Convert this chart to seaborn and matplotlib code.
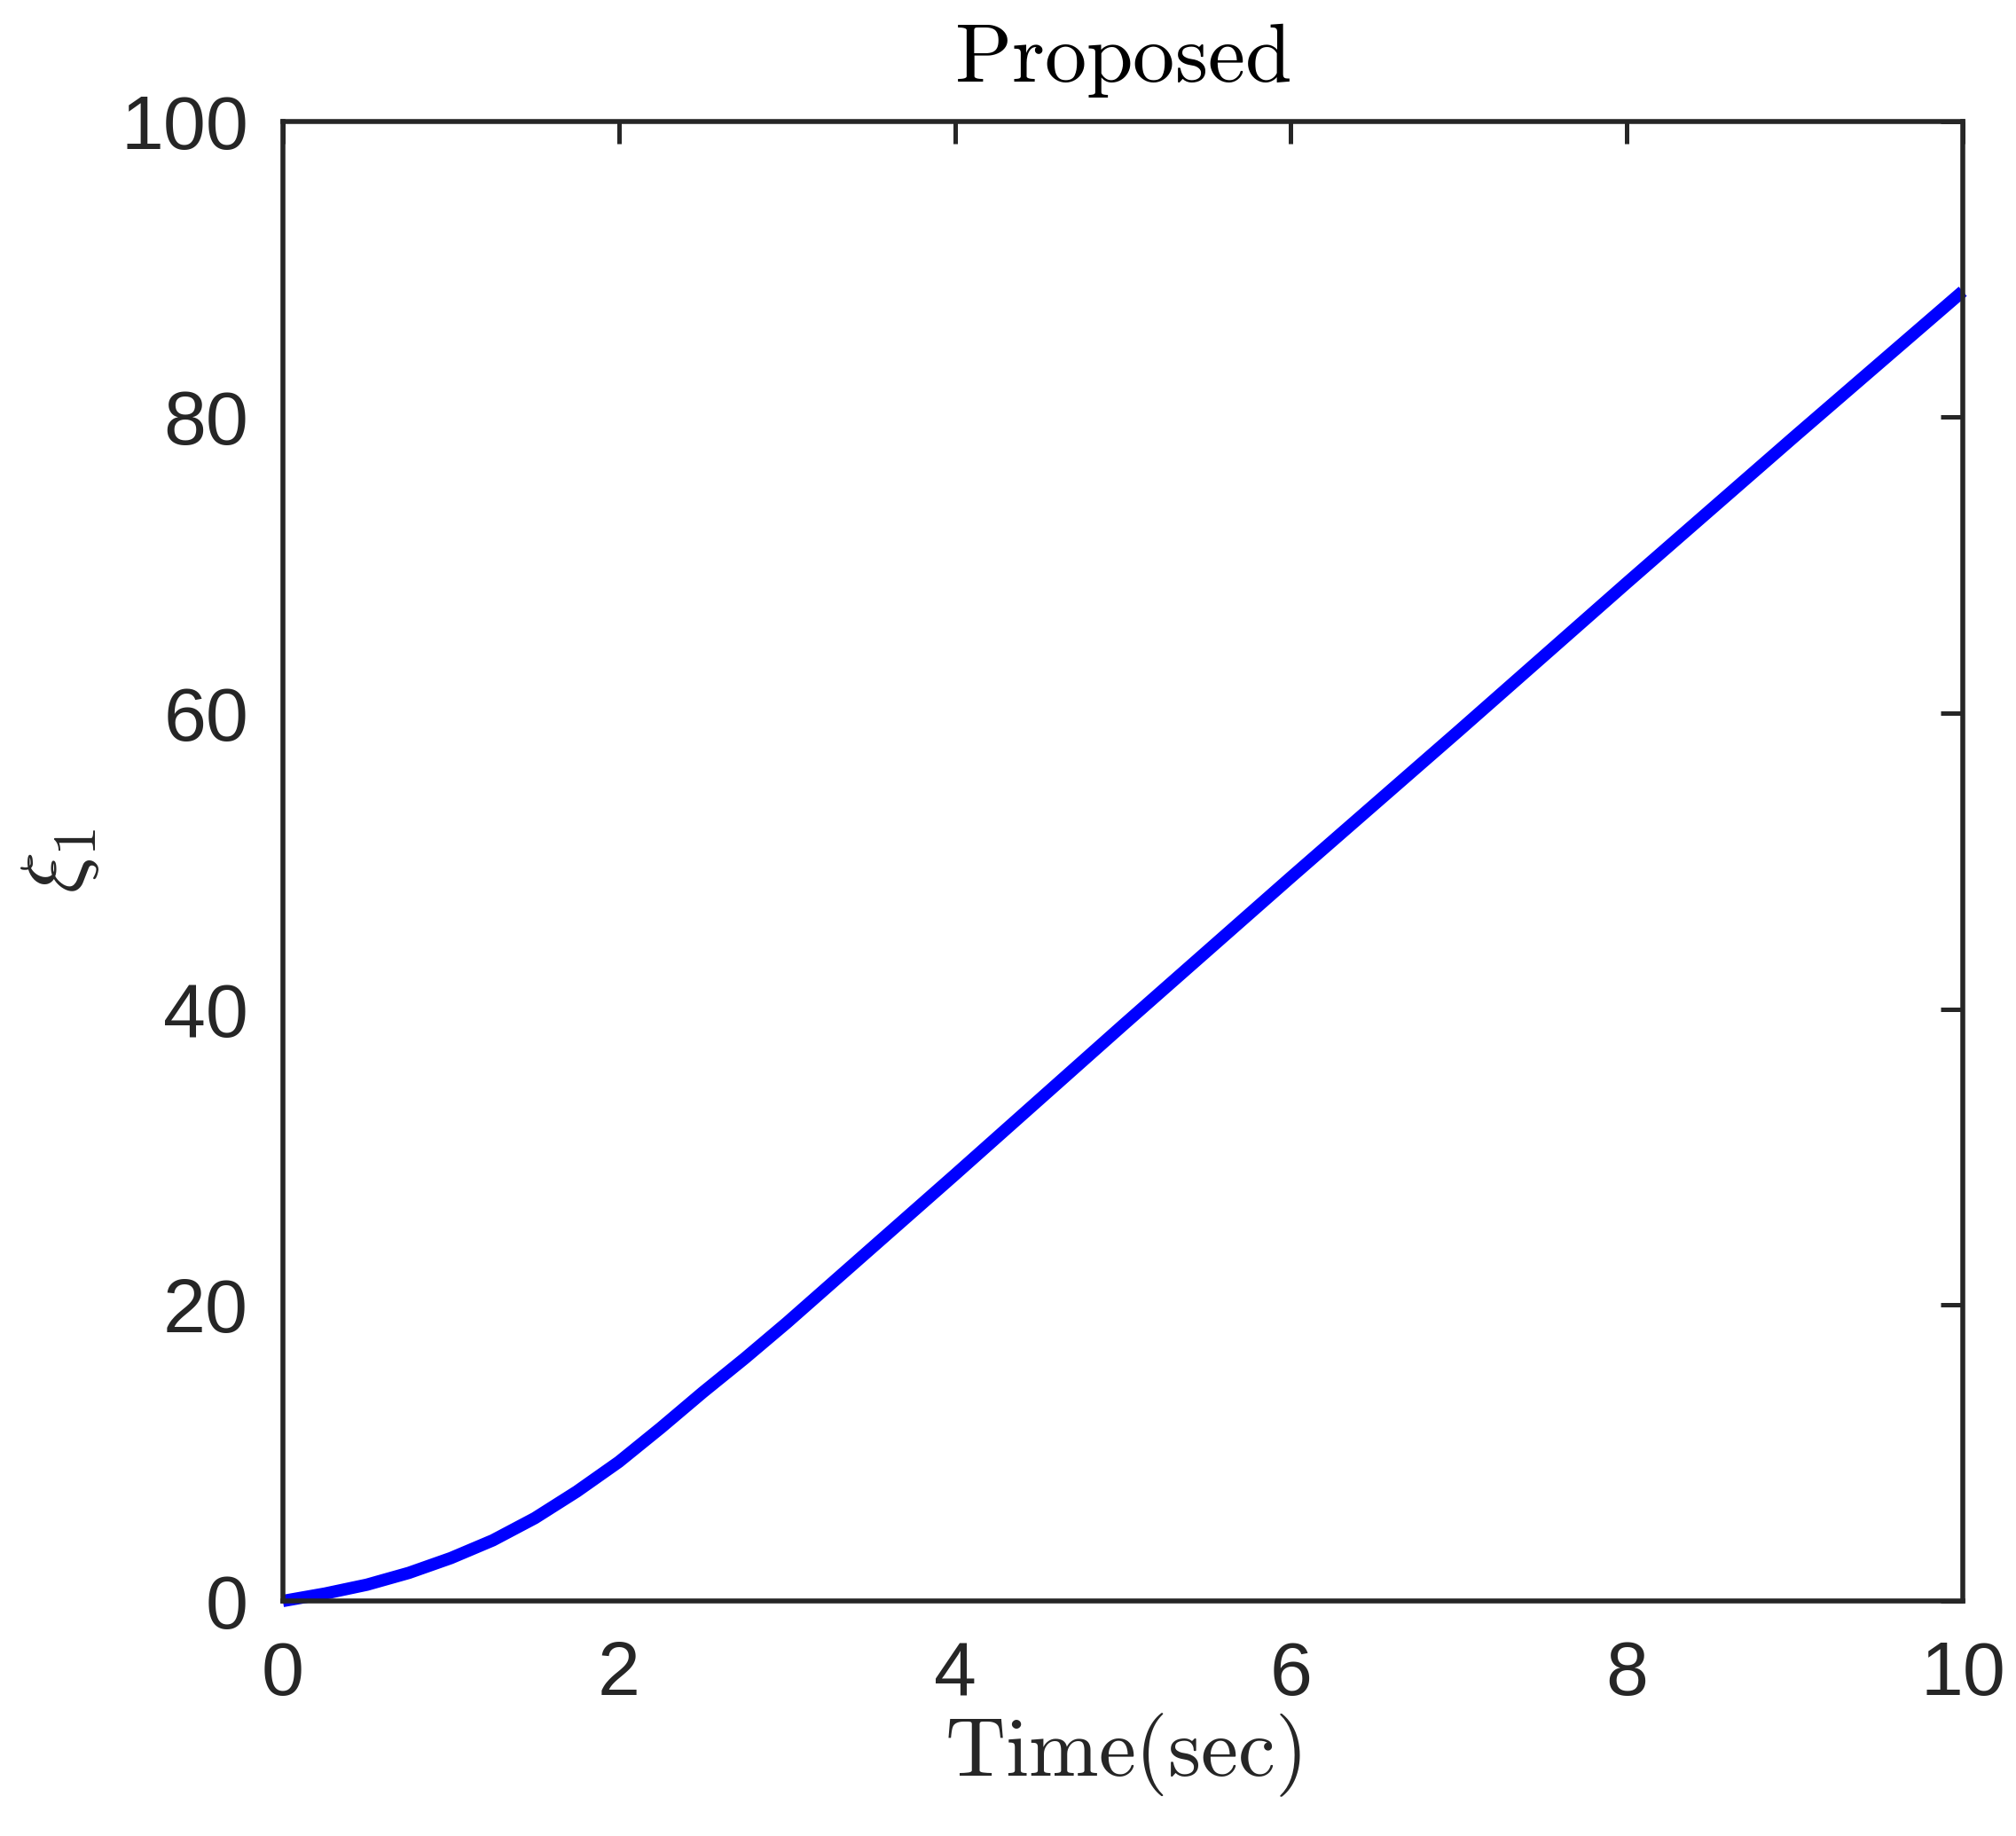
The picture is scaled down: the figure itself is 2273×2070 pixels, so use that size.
import pandas as pd
import seaborn as sns
import matplotlib.pyplot as plt

# values
time_sec = [0, 0.25, 0.5, 0.75, 1, 1.25, 1.5, 1.75, 2, 2.25, 2.5, 2.75,
            3, 3.25, 3.5, 4, 5, 6, 7, 8, 9, 10]
xi_1 = [0, 0.5, 1.1, 1.9, 2.9, 4.1, 5.6, 7.4, 9.4, 11.7, 14.1, 16.4,
        18.8, 21.3, 23.8, 28.8, 38.9, 48.9, 58.8, 68.8, 78.7, 88.5]

x_ticks = [0, 2, 4, 6, 8, 10]
y_ticks = [0, 20, 40, 60, 80, 100]

df = pd.DataFrame({"t": time_sec, "xi": xi_1})

sns.set_style("white")
plt.rcParams["font.family"] = ["Liberation Sans", "DejaVu Sans"]
plt.rcParams["mathtext.fontset"] = "cm"

ink = "#262626"

fig = plt.figure(figsize=(11.365, 10.35), dpi=200)
ax = fig.add_axes([0.1403, 0.128, 0.8333, 0.806])

sns.lineplot(data=df, x="t", y="xi", color="blue", linewidth=5.0, ax=ax,
             solid_capstyle="butt", solid_joinstyle="round", clip_on=False)

ax.set_xlim(0, 10)
ax.set_ylim(0, 100)
ax.set_xticks(x_ticks)
ax.set_yticks(y_ticks)

ax.tick_params(direction="in", length=9, width=1.8, colors=ink,
               labelsize=31, top=True, right=True)
ax.tick_params(axis="x", pad=16)
ax.tick_params(axis="y", pad=14)

for spine in ax.spines.values():
    spine.set_visible(True)
    spine.set_linewidth(2.0)
    spine.set_color(ink)

ax.set_title(r"$\mathrm{Proposed}$", fontsize=34, color="black", pad=16)
ax.set_xlabel(r"$\mathrm{Time(sec)}$", fontsize=34, color=ink, labelpad=0)
ax.set_ylabel(r"$\xi_1$", fontsize=35, color=ink, labelpad=8)

fig.savefig("out.png", dpi=200)
